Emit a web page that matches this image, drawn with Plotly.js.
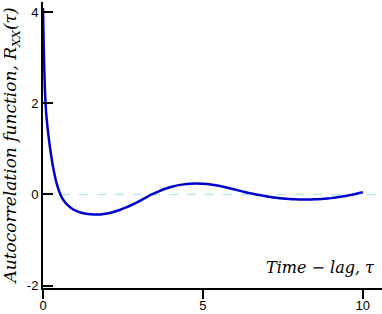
<!DOCTYPE html>
<html>
<head>
<meta charset="utf-8">
<script src="https://cdn.plot.ly/plotly-3.0.1.min.js"></script>
<style>html,body{margin:0;padding:0;background:#fff;}#chart{width:382px;height:314px;}</style>
</head>
<body>
<div id="chart"></div>
<script>
// Time lag (tau) and autocorrelation values
const tau = [0, 0.02, 0.04, 0.06, 0.08, 0.1, 0.13, 0.16, 0.2, 0.25, 0.3, 0.35, 0.4, 0.45, 0.5, 0.55, 0.6, 0.7, 0.8, 0.9, 1.0, 1.2, 1.4, 1.6, 1.8, 2.0, 2.2, 2.4, 2.6, 2.8, 3.0, 3.2, 3.4, 3.6, 3.8, 4.0, 4.2, 4.4, 4.6, 4.8, 5.0, 5.2, 5.4, 5.6, 5.8, 6.0, 6.2, 6.4, 6.6, 6.8, 7.0, 7.2, 7.4, 7.6, 7.8, 8.0, 8.2, 8.4, 8.6, 8.8, 9.0, 9.2, 9.4, 9.6, 9.8, 10.0];
const rxx = [4.1, 3.35, 2.75, 2.3, 2.0, 1.78, 1.55, 1.36, 1.13, 0.88, 0.66, 0.48, 0.32, 0.19, 0.08, -0.01, -0.08, -0.18, -0.25, -0.31, -0.35, -0.4, -0.43, -0.44, -0.44, -0.42, -0.385, -0.34, -0.285, -0.22, -0.15, -0.075, 0.0, 0.065, 0.12, 0.165, 0.2, 0.222, 0.236, 0.24, 0.236, 0.224, 0.203, 0.175, 0.143, 0.108, 0.073, 0.04, 0.01, -0.018, -0.043, -0.064, -0.081, -0.094, -0.104, -0.11, -0.112, -0.11, -0.104, -0.094, -0.08, -0.062, -0.04, -0.014, 0.016, 0.05];
const xTicks = [0, 5, 10];
const yTicks = [-2, 0, 2, 4];

const serif = "'DejaVu Serif', serif";
const trace = {
  x: tau, y: rxx, type: 'scatter', mode: 'lines',
  line: {color: '#0000CD', width: 2.5, shape: 'spline', smoothing: 0.5},
  hoverinfo: 'skip'
};
const layout = {
  width: 382, height: 314,
  margin: {l: 43, r: 0, t: 2, b: 26},
  paper_bgcolor: '#fff', plot_bgcolor: '#fff',
  showlegend: false,
  font: {family: "'Liberation Sans', Arial, sans-serif", size: 13, color: '#000'},
  xaxis: {
    range: [0, 10.6], tickvals: xTicks, ticktext: xTicks.map(String),
    showline: true, linecolor: '#000', linewidth: 2, mirror: false,
    ticks: 'outside', ticklen: 9, tickwidth: 2, tickcolor: '#000',
    ticklabelstandoff: -5,
    showgrid: false, zeroline: false, automargin: false
  },
  yaxis: {
    range: [-2.055, 4.23], tickvals: yTicks, ticktext: yTicks.map(String),
    showline: true, linecolor: '#000', linewidth: 2,
    ticks: 'inside', ticklen: 10, tickwidth: 2, tickcolor: '#000',
    showgrid: false, zeroline: false, automargin: false,
    title: {text: 'Autocorrelation function, R<sub>XX</sub>(τ)', font: {family: serif, size: 17, style: 'italic', color: '#000'}, standoff: 6}
  },
  shapes: [{
    type: 'line', xref: 'paper', x0: 0, x1: 1, yref: 'y', y0: 0, y1: 0,
    line: {color: '#B8E8F0', width: 1.5, dash: 'dash'}, layer: 'below'
  }],
  annotations: [{
    text: 'Time − lag, τ', xref: 'paper', yref: 'paper', x: 0.985, y: 0.03,
    xanchor: 'right', yanchor: 'bottom', showarrow: false,
    font: {family: serif, size: 16, style: 'italic', color: '#000'}
  }]
};
Plotly.newPlot('chart', [trace], layout, {displayModeBar: false, staticPlot: true});
</script>
</body>
</html>
